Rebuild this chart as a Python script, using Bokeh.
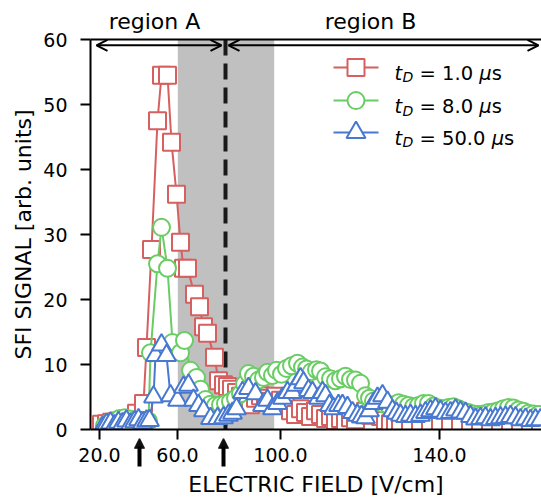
from bokeh.plotting import figure
from bokeh.models import (Range1d, FixedTicker, Span, BoxAnnotation, Arrow,
                          OpenHead, NormalHead, Label, LinearAxis)
from bokeh.embed import file_html
from bokeh.resources import INLINE

# ---------------- data (x in field-ramp units, y = SFI signal) ----------------
red_x = [11, 16, 21, 26, 31, 36, 41, 46, 53, 56, 61, 67, 71, 77, 81, 86, 90, 93, 97,
         104, 109, 113, 117, 124, 128, 133, 137, 141, 146, 150, 155, 160, 165, 170,
         175, 180, 185, 190, 195, 200, 205, 210, 215, 220, 225, 230, 235, 240, 245,
         250, 255, 260, 265, 270, 275, 280, 285, 290, 295, 300, 305, 310, 320, 330,
         340, 350, 360, 370, 380, 390, 400, 410, 420, 430, 440, 450]
red_y = [0.8, 0.9, 1.1, 1.2, 1.2, 1.4, 1.7, 2.5, 4.0, 12.6, 27.7, 47.5, 54.5, 54.5,
         44.2, 36.2, 28.8, 24.8, 24.8, 20.8, 18.9, 15.8, 14.8, 11.1, 7.5, 6.9, 6.6,
         6.2, 5.7, 5.1, 4.5, 3.8, 4.8, 5.2, 4.8, 4.3, 5.1, 4.5, 3.7, 2.9, 2.3, 3.2,
         2.6, 2.0, 2.9, 2.3, 1.7, 2.0, 1.4, 1.7, 1.2, 1.8, 1.5, 2.4, 2.8, 2.2, 2.9,
         2.0, 1.4, 0.9, 0.7, 0.5, 0.6, 0.4, 0.7, 0.5, 0.6, 0.4, 0.5, 0.6, 0.4, 0.5,
         0.4, 0.5, 0.4, 0.4]

green_x = [14, 19, 24, 29, 34, 39, 44, 49, 54, 58, 60, 67, 71, 77, 82, 90, 94, 100,
           106, 110, 115, 120, 125, 130, 135, 140, 145, 150, 154, 158, 163, 168, 173,
           177, 182, 186, 191, 196, 201, 207, 212, 216, 221, 226, 230, 235, 240, 245,
           250, 255, 260, 265, 270, 275, 279, 283, 288, 293, 298, 303, 308, 313, 318,
           323, 328, 333, 338, 343, 348, 353, 358, 363, 368, 373, 378, 383, 388, 393,
           398, 403, 408, 413, 418, 423, 428, 433, 438, 443, 448]
green_y = [0.6, 1.1, 1.4, 1.7, 1.8, 1.6, 1.4, 1.2, 1.0, 1.3, 11.8, 25.5, 31.1, 24.8,
           13.4, 11.8, 13.7, 9.1, 8.0, 6.2, 4.6, 3.9, 3.7, 3.8, 4.0, 4.3, 4.8, 5.5,
           7.0, 8.6, 8.2, 7.6, 8.0, 8.8, 8.3, 9.1, 8.5, 9.4, 9.8, 10.2, 9.6, 9.3, 8.9,
           9.2, 9.0, 8.1, 7.8, 7.5, 7.8, 8.2, 7.7, 7.6, 7.1, 5.2, 4.8, 4.4, 4.2, 3.9,
           3.7, 3.8, 4.1, 3.9, 3.7, 3.5, 3.7, 4.0, 4.0, 3.6, 3.3, 3.2, 3.4, 3.5, 3.2,
           2.8, 2.6, 2.4, 2.3, 2.4, 2.6, 2.7, 2.9, 3.2, 3.4, 3.3, 3.0, 2.8, 2.5, 2.4,
           2.3]

blue_x = [12, 16, 20, 24, 28, 32, 36, 40, 44, 48, 52, 56, 59, 63, 65, 71, 76, 80, 87,
          93, 98, 103, 108, 113, 120, 127, 133, 138, 142, 146, 152, 158, 165, 172,
          177, 182, 187, 192, 197, 202, 206, 210, 213, 218, 222, 228, 232, 235, 239,
          243, 248, 252, 257, 262, 267, 271, 275, 279, 283, 287, 292, 297, 302, 306,
          310, 315, 320, 325, 330, 335, 340, 345, 350, 355, 360, 365, 370, 375, 380,
          385, 390, 395, 400, 405, 410, 415, 420, 425, 430, 435, 440, 445, 450]
blue_y = [0.3, 0.8, 1.0, 0.6, 1.1, 0.9, 1.3, 0.8, 1.2, 1.5, 1.0, 1.3, 1.4, 5.0, 11.4,
          13.0, 11.4, 5.2, 4.5, 6.5, 6.8, 4.5, 3.7, 2.9, 1.7, 1.7, 1.8, 2.2, 2.5, 3.2,
          5.7, 6.3, 5.5, 3.7, 4.5, 3.2, 4.0, 4.8, 5.7, 5.7, 6.8, 7.8, 7.2, 6.0, 5.7,
          4.8, 5.7, 5.2, 3.7, 3.2, 3.7, 3.7, 3.4, 2.6, 2.2, 2.0, 1.8, 2.9, 4.0, 4.8,
          5.2, 4.2, 2.9, 2.5, 2.2, 2.0, 2.2, 2.0, 2.2, 2.6, 2.9, 3.2, 2.8, 2.5, 2.6,
          3.0, 2.7, 2.5, 2.0, 1.6, 1.7, 1.8, 1.5, 1.7, 1.8, 1.9, 2.0, 1.8, 1.5, 1.6,
          1.4, 1.5, 1.5]

x_tick_pos = [9, 87, 190, 349]
x_tick_labels = ["20.0", "60.0", "100.0", "140.0"]
y_ticks = [0, 10, 20, 30, 40, 50, 60]
region_pos = [64, 280]
region_labels = ["region A", "region B"]

series_labels = ["1.0", "8.0", "50.0"]
marked_fields = [49, 133]          # arrows under the axis
band = (87.3, 183.7)               # shaded region
boundary = 135                     # region A / region B boundary

RED, GREEN, BLUE = "#d65f5f", "#6acc64", "#4878d0"
FONT = "DejaVu Sans"

p = figure(width=541, height=499, output_backend="svg", toolbar_location=None,
           x_range=Range1d(0, 451), y_range=Range1d(0, 60),
           min_border_left=90, min_border_right=0, min_border_top=39,
           min_border_bottom=70)
p.outline_line_color = None
p.xgrid.visible = False
p.ygrid.visible = False
p.background_fill_color = "white"
p.border_fill_color = "white"

bottom = p.below[0]
left = p.left[0]
top = LinearAxis(ticker=FixedTicker(ticks=region_pos),
                 major_label_overrides=dict(zip(region_pos, region_labels)))
p.add_layout(top, "above")

for ax in (bottom, left, top):
    ax.axis_line_width = 2
    ax.axis_line_color = "black"
    ax.major_tick_line_width = 2
    ax.major_tick_out = 10
    ax.major_tick_in = 0
    ax.minor_tick_line_color = None
    ax.major_label_text_font = FONT
    ax.major_label_text_font_size = "19px"
    ax.major_label_text_color = "black"
    ax.axis_label_text_font = FONT
    ax.axis_label_text_font_size = "22px"
    ax.axis_label_text_font_style = "normal"
    ax.axis_label_text_color = "black"

top.major_tick_line_color = None
top.major_tick_out = 0
top.major_label_text_font_size = "22px"
top.major_label_standoff = 6

bottom.ticker = FixedTicker(ticks=x_tick_pos)
bottom.major_label_overrides = dict(zip(x_tick_pos, x_tick_labels))
left.ticker = FixedTicker(ticks=y_ticks)
bottom.axis_label = "ELECTRIC FIELD [V/cm]"
left.axis_label = "SFI SIGNAL [arb. units]"
bottom.major_label_standoff = 8
left.major_label_standoff = 13
bottom.axis_label_standoff = 7
left.axis_label_standoff = 4

# shaded band and boundary
p.add_layout(BoxAnnotation(left=band[0], right=band[1], fill_color="#c0c0c0",
                           fill_alpha=1.0, line_color=None, level="underlay"))
p.add_layout(Span(location=boundary, dimension="height", line_color="#1a1a1a",
                  line_width=4, line_dash="16 8", level="underlay"))

# data series
def series(x, y, color, marker, size):
    p.line(x, y, line_color=color, line_width=2)
    p.scatter(x, y, marker=marker, size=size, line_color=color, line_width=2,
              fill_color="white")

series(red_x, red_y, RED, "square", 17)
series(green_x, green_y, GREEN, "circle", 17)
series(blue_x, blue_y, BLUE, "triangle", 19)

# region arrows on top
for xs, xe in [(6, 131), (138, 448)]:
    p.add_layout(Arrow(start=OpenHead(size=11, line_width=2, line_color="black"),
                       end=OpenHead(size=11, line_width=2, line_color="black"),
                       x_start=xs, y_start=59.1, x_end=xe, y_end=59.1,
                       line_width=2, line_color="black"))

# up-arrows under the axis (outside the frame only the part of an arrow
# body lying inside its head's box is painted, so the mark is built from
# such pieces: one vertical shaft and a stack of short rows for the head)
PX = 1.0 / 6.5   # one pixel in y data units (x units are pixels already)
for xm in marked_fields:
    p.add_layout(Arrow(end=NormalHead(size=20, fill_color="black", line_color="black"),
                       x_start=xm, y_start=-80 * PX, x_end=xm, y_end=-17 * PX,
                       line_color="black", line_width=4))
    for j in range(10):
        L = 1.5 + j
        yr = -(9.5 + j) * PX
        p.add_layout(Arrow(end=NormalHead(size=L, fill_color="black",
                                          line_color="black"),
                           x_start=xm - 40, y_start=yr, x_end=xm + L / 2, y_end=yr,
                           line_color="black", line_width=1.4))

# legend (manual, for the subscript)
rows = [(55.7, RED, "square", 17), (50.6, GREEN, "circle", 17), (45.7, BLUE, "triangle", 19)]
W = {"=": 0.838, " ": 0.318, ".": 0.318, "0": 0.636, "1": 0.636, "5": 0.636, "8": 0.636}
fs = 19.5
for (ym, col, mk, sz), lab in zip(rows, series_labels):
    p.line([243, 288], [ym, ym], line_color=col, line_width=2)
    p.scatter([265.5], [ym], marker=mk, size=sz, line_color=col, line_width=2,
              fill_color="white")
    yb = ym - 0.93
    p.add_layout(Label(x=304, y=yb, text="t", text_font=FONT, text_font_style="italic",
                       text_font_size="19.5px", text_baseline="alphabetic",
                       text_color="black"))
    p.add_layout(Label(x=312, y=yb - 0.6, text="D", text_font=FONT,
                       text_font_style="italic", text_font_size="14px",
                       text_baseline="alphabetic", text_color="black"))
    s1 = "= " + lab + " "
    p.add_layout(Label(x=329, y=yb, text=s1, text_font=FONT, text_font_size="19.5px",
                       text_baseline="alphabetic", text_color="black"))
    xmu = 329 + sum(W[c] for c in s1) * fs
    p.add_layout(Label(x=xmu, y=yb, text="\u03bc", text_font=FONT,
                       text_font_style="italic", text_font_size="19.5px",
                       text_baseline="alphabetic", text_color="black"))
    p.add_layout(Label(x=xmu + 0.636 * fs, y=yb, text="s", text_font=FONT,
                       text_font_size="19.5px", text_baseline="alphabetic",
                       text_color="black"))

open("out.html", "w").write(file_html(p, INLINE))
